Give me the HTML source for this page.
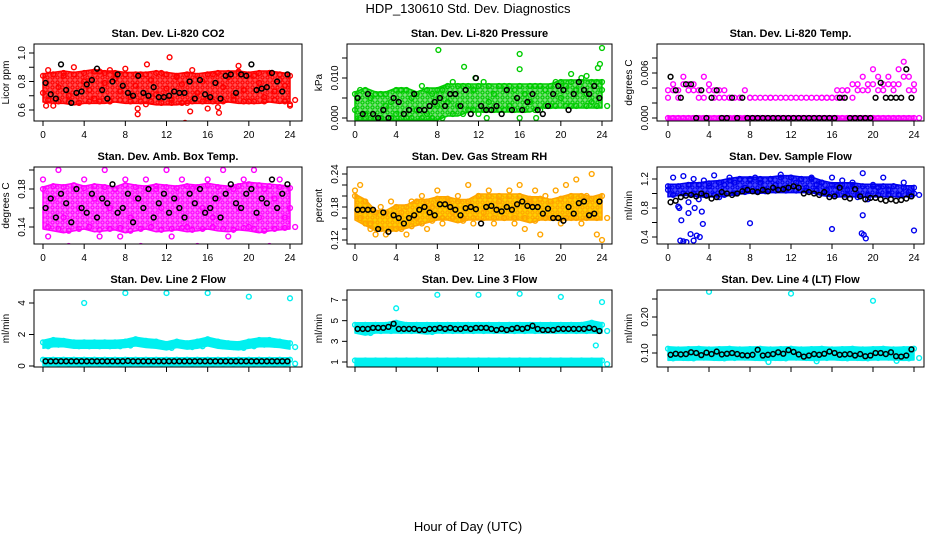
<!DOCTYPE html>
<html><head><meta charset="utf-8">
<style>
html,body{margin:0;padding:0;background:#fff;}
svg{display:block;font-family:"Liberation Sans","DejaVu Sans",sans-serif;}
</style></head>
<body>
<svg id="chart" width="936" height="540" viewBox="0 0 936 540" xmlns="http://www.w3.org/2000/svg">
<defs id="defs"></defs>
<text x="468" y="13" text-anchor="middle" font-size="13">HDP_130610  Std. Dev. Diagnostics</text>
<text x="468" y="531" text-anchor="middle" font-size="13">Hour of Day (UTC)</text>
<g id="panels"></g>
</svg>
<script>
// ---- data ----
const hourTicks = [0,4,8,12,16,20,24];

const co2Lo = [0.67,0.66,0.66,0.65,0.66,0.66,0.66,0.67,0.66,0.66,0.66,0.65,0.65,0.65,0.66,0.66,0.66,0.66,0.67,0.66,0.66,0.66,0.67,0.66,0.67];
const co2Hi = [0.84,0.85,0.86,0.85,0.86,0.87,0.86,0.86,0.85,0.85,0.85,0.86,0.85,0.84,0.85,0.84,0.85,0.86,0.86,0.86,0.85,0.86,0.86,0.85,0.84];
const co2Pts = [0.72,0.88,0.63,0.76,0.84,0.70,0.90,0.65,0.80,0.74,0.68,0.87,0.79,0.66,0.82,0.73,0.89,0.69,0.77,0.85,0.64,0.81,0.71,0.86,0.75,0.67,0.83,0.78,0.65,0.88,0.72,0.80,0.68,0.85,0.62,0.76,0.83,0.70,0.87,0.74,0.66,0.84,0.79,0.69,0.86,0.73,0.81,0.77,0.64];
const co2OutX = [5.4,0.3,12.3,13.8,14.3,9.2,17.1,24,6.5,16,19,10.1,9.2];
const co2OutY = [1.15,0.63,0.97,0.51,0.59,0.61,0.58,0.63,0.88,0.61,0.91,0.92,0.57];
const co2Blk = [0.79,0.71,0.68,0.92,0.74,0.65,0.72,0.73,0.78,0.81,0.89,0.74,0.68,0.80,0.85,0.77,0.72,0.70,0.84,0.72,0.70,0.76,0.69,0.69,0.70,0.73,0.72,0.72,0.80,0.68,0.81,0.71,0.69,0.79,0.68,0.84,0.85,0.72,0.85,0.84,0.92,0.74,0.75,0.76,0.86,0.80,0.73,0.85];

const prsLo = [0,0,0,0,0,0,0,0,0,0.001,0.001,0.002,0.002,0.002,0.002,0.002,0.002,0.002,0.003,0.003,0.003,0.003,0.003,0.003,0.003];
const prsHi = [0.006,0.007,0.006,0.006,0.007,0.007,0.006,0.007,0.007,0.008,0.008,0.008,0.008,0.008,0.008,0.008,0.008,0.008,0.008,0.008,0.009,0.009,0.009,0.009,0.009];
const prsPts = [0.002,0.007,0.001,0.005,0.000,0.006,0.003,0.004,0.001,0.007,0.000,0.005,0.002,0.008,0.001,0.006,0.003,0.007,0.004,0.009,0.003,0.008,0.002,0.007,0.001,0.009,0.004,0.006,0.002,0.008,0.003,0.007,0.000,0.006,0.004,0.008,0.002,0.007,0.003,0.009,0.005,0.008,0.003,0.007,0.010,0.006,0.004,0.009,0.007];
const prsOutX = [8.1,16,16,10.6,21,23.8,23.6,24,11.7,22.5,17.6,12.8];
const prsOutY = [0.017,0.016,0.0122,0.0128,0.011,0.0135,0.0125,0.0175,0.010,0.0105,0.000,0.000];
const prsBlk = [0.005,0.001,0.006,0.001,0.000,0.002,0.000,0.005,0.004,0.001,0.002,0.006,0.002,0.002,0.003,0.004,0.005,0.003,0.006,0.006,0.003,0.007,0.001,0.010,0.003,0.002,0.002,0.003,0.001,0.007,0.002,0.005,0.002,0.004,0.006,0.002,0.001,0.003,0.006,0.008,0.007,0.002,0.006,0.009,0.007,0.006,0.008,0.005];

const tmpMag1 = [0.0037,0.0045,0.0037,0.0055,0.0045,0.0045,0.0037,0.0055,0.0045,0.0037,0.0027,0.0037,0.0027,0.0027,0.0027,0.0037,0.0027,0.0027,0.0027,0.0027,0.0027,0.0027,0.0027,0.0027,0.0027,0.0027,0.0027,0.0027,0.0027,0.0027,0.0027,0.0027,0.0027,0.0027,0.0037,0.0037,0.0045,0.0037,0.0055,0.0045,0.0065,0.0055,0.0045,0.0055,0.0045,0.0065,0.0075,0.0055,0.0045];
const tmpMag2 = [0.0027,0.0037,0.0027,0.0045,0.0037,0.0037,0.0027,0.0027,0.0037,0.0027,0.0037,0.0027,0.0027,0,0.0027,0,0.0027,0,0,0,0.0027,0,0,0,0,0,0,0,0,0,0.0027,0.0027,0.0027,0.0037,0.0027,0.0037,0.0027,0.0045,0.0037,0.0037,0.0045,0.0037,0.0037,0.0045,0.0037,0.0045,0.0055,0.0037,0.0037];
const tmpLo = [0,0,0,0,0,0,0,0,0,0,0,0,0,0,0,0,0,0,0,0,0,0,0,0,0];
const tmpHi = [0,0,0,0,0,0,0,0,0,0,0,0,0,0,0,0,0,0,0,0,0,0,0,0,0];
const tmpBlk = [0.0055,0.0037,0.0027,0.0045,0.0045,0,0.0037,0,0.0027,0.0037,0,0,0.0027,0,0.0027,0,0,0,0,0,0,0,0,0,0,0,0,0,0,0,0,0,0,0.0027,0.0027,0,0,0,0,0,0.0027,0.0047,0.0027,0.0027,0.0027,0.0027,0.0065,0.0027];

const ambLo = [0.140,0.138,0.136,0.138,0.140,0.137,0.138,0.139,0.136,0.138,0.140,0.137,0.138,0.139,0.137,0.138,0.140,0.138,0.137,0.139,0.138,0.136,0.138,0.139,0.140];
const ambHi = [0.180,0.183,0.182,0.184,0.181,0.183,0.182,0.180,0.184,0.182,0.181,0.183,0.182,0.181,0.183,0.182,0.184,0.182,0.181,0.183,0.185,0.184,0.183,0.182,0.181];
const ambPts = [0.19,0.13,0.17,0.20,0.15,0.12,0.18,0.16,0.19,0.14,0.17,0.13,0.20,0.16,0.18,0.13,0.19,0.15,0.17,0.12,0.19,0.14,0.18,0.16,0.20,0.13,0.17,0.19,0.14,0.18,0.12,0.16,0.19,0.15,0.17,0.20,0.13,0.18,0.16,0.19,0.14,0.20,0.15,0.18,0.12,0.17,0.19,0.15,0.16];
const ambBlk = [0.160,0.170,0.150,0.175,0.165,0.145,0.180,0.160,0.155,0.175,0.150,0.170,0.165,0.185,0.155,0.160,0.175,0.145,0.170,0.160,0.180,0.150,0.165,0.175,0.155,0.170,0.160,0.150,0.175,0.165,0.180,0.155,0.160,0.170,0.150,0.175,0.185,0.165,0.160,0.175,0.180,0.155,0.170,0.165,0.190,0.160,0.175,0.185];

const rhLo = [0.16,0.15,0.14,0.14,0.14,0.145,0.15,0.155,0.16,0.16,0.155,0.16,0.16,0.16,0.16,0.16,0.16,0.155,0.16,0.16,0.16,0.16,0.16,0.16,0.16];
const rhHi = [0.20,0.19,0.17,0.17,0.18,0.18,0.19,0.19,0.195,0.195,0.19,0.19,0.20,0.20,0.20,0.20,0.20,0.195,0.195,0.19,0.195,0.20,0.20,0.195,0.20];
const rhPts = [0.21,0.22,0.15,0.14,0.13,0.18,0.13,0.19,0.14,0.17,0.13,0.19,0.16,0.20,0.14,0.18,0.21,0.15,0.19,0.17,0.20,0.16,0.22,0.15,0.20,0.17,0.21,0.15,0.19,0.16,0.21,0.15,0.22,0.14,0.19,0.21,0.13,0.20,0.16,0.21,0.15,0.22,0.16,0.23,0.15,0.20,0.24,0.13,0.12];
const rhBlk = [0.175,0.175,0.175,0.175,0.140,0.170,0.135,0.165,0.160,0.150,0.160,0.165,0.175,0.180,0.170,0.165,0.185,0.185,0.180,0.175,0.165,0.178,0.180,0.176,0.150,0.180,0.182,0.175,0.172,0.180,0.175,0.185,0.190,0.182,0.180,0.180,0.168,0.177,0.160,0.160,0.155,0.180,0.168,0.187,0.190,0.165,0.168,0.190];

const flwLo = [0.98,1.00,1.00,0.98,0.98,0.98,1.00,1.02,1.03,1.03,1.04,1.04,1.04,1.04,1.04,1.00,0.98,0.98,0.98,0.98,0.98,0.98,0.98,0.98,0.98];
const flwHi = [1.10,1.10,1.12,1.12,1.14,1.15,1.18,1.20,1.20,1.20,1.20,1.22,1.22,1.20,1.20,1.15,1.12,1.12,1.12,1.10,1.10,1.10,1.10,1.08,1.08];
const flwPts = [1.05,1.22,0.82,1.24,0.88,1.20,0.92,1.18,1.10,1.25,0.95,1.12,1.22,1.15,1.20,1.08,1.18,1.22,1.15,1.05,1.20,1.12,1.26,1.08,1.22,1.15,1.20,1.08,1.22,1.12,1.15,1.05,1.22,1.10,1.18,1.05,1.15,0.95,1.28,0.92,1.12,1.08,1.22,1.05,1.10,0.98,1.15,1.02,1.00];
const flwOutX = [1.2,1.5,1.8,2.2,2.5,2.8,3.1,3.4,1.3,2.0,2.6,3.3,8.0,16.0,18.9,19.1,19.0,19.3,24.0,1.1];
const flwOutY = [0.35,0.34,0.33,0.44,0.35,0.42,0.40,0.58,0.63,0.73,0.80,0.75,0.59,0.51,0.45,0.43,0.70,0.38,0.49,0.80];
const flwBlk = [0.88,0.90,0.95,0.97,0.98,0.96,1.00,0.97,0.93,0.95,1.02,1.00,0.98,1.00,1.03,1.05,1.03,1.02,1.05,1.03,1.08,1.05,1.06,1.08,1.10,1.08,1.00,1.02,1.00,0.98,1.02,0.95,0.96,1.08,0.95,0.93,1.06,0.96,0.92,0.94,0.94,0.92,0.90,0.92,0.90,0.91,0.93,0.96];

const l2Lo = [1.25,1.35,1.35,1.25,1.25,1.25,1.25,1.25,1.30,1.40,1.30,1.25,1.15,1.30,1.20,1.25,1.40,1.25,1.20,1.15,1.25,1.35,1.35,1.30,1.20];
const l2Hi = [1.50,1.65,1.60,1.50,1.50,1.50,1.50,1.50,1.55,1.70,1.60,1.55,1.40,1.55,1.45,1.55,1.70,1.55,1.45,1.40,1.55,1.65,1.65,1.55,1.45];
const l2RowLo = [0.15,0.15,0.15,0.15,0.15,0.15,0.15,0.15,0.15,0.15,0.15,0.15,0.15,0.15,0.15,0.15,0.15,0.15,0.15,0.15,0.15,0.15,0.15,0.15,0.15];
const l2RowHi = [0.40,0.40,0.40,0.40,0.40,0.40,0.40,0.40,0.40,0.40,0.40,0.40,0.40,0.40,0.40,0.40,0.40,0.40,0.40,0.40,0.40,0.40,0.40,0.40,0.40];
const l2OutX = [4,8,12,16,20,24];
const l2OutY = [4.0,4.63,4.63,4.63,4.4,4.3];
const l2Blk = [0.30,0.30,0.30,0.30,0.30,0.30,0.30,0.30,0.30,0.30,0.30,0.30,0.30,0.30,0.30,0.30,0.32,0.30,0.30,0.30,0.30,0.30,0.30,0.30,0.30,0.30,0.30,0.30,0.30,0.30,0.30,0.30,0.30,0.30,0.30,0.30,0.30,0.30,0.30,0.30,0.30,0.30,0.30,0.30,0.30,0.30,0.30,0.30];

const l3Lo = [4.00,3.80,4.00,4.00,4.00,4.00,4.00,3.90,4.00,4.00,4.00,4.00,4.00,4.00,4.00,4.00,4.00,4.00,4.00,4.00,4.00,4.00,4.00,4.00,4.00];
const l3Hi = [4.60,4.60,4.60,4.60,4.80,4.60,4.60,4.60,4.60,4.60,4.60,4.60,4.60,4.60,4.60,4.60,4.60,4.60,4.60,4.60,4.60,4.60,4.60,4.80,4.60];
const l3RowLo = [0.80,0.80,0.80,0.80,0.80,0.80,0.80,0.80,0.80,0.80,0.80,0.80,0.80,0.80,0.80,0.80,0.80,0.80,0.80,0.80,0.80,0.80,0.80,0.80,0.80];
const l3RowHi = [1.15,1.15,1.15,1.15,1.15,1.15,1.15,1.15,1.15,1.15,1.15,1.15,1.15,1.15,1.15,1.15,1.15,1.15,1.15,1.15,1.15,1.15,1.15,1.15,1.15];
const l3OutX = [4,8,12,16,20,24,23.4];
const l3OutY = [6.2,7.5,7.5,7.6,7.3,6.8,2.6];
const l3Blk = [4.2,4.2,4.2,4.3,4.3,4.3,4.4,4.7,4.2,4.2,4.2,4.2,4.1,4.1,4.2,4.2,4.3,4.2,4.3,4.2,4.2,4.3,4.2,4.3,4.3,4.3,4.2,4.1,4.2,4.1,4.2,4.3,4.2,4.3,4.5,4.2,4.1,4.1,4.1,4.2,4.2,4.2,4.2,4.2,4.2,4.3,4.2,4.0];

const l4Lo = [0.085,0.086,0.085,0.087,0.086,0.085,0.086,0.087,0.086,0.085,0.086,0.085,0.087,0.086,0.085,0.086,0.087,0.085,0.086,0.085,0.086,0.087,0.086,0.085,0.086];
const l4Hi = [0.112,0.110,0.111,0.112,0.110,0.111,0.112,0.110,0.111,0.112,0.110,0.111,0.112,0.110,0.111,0.112,0.110,0.111,0.112,0.110,0.111,0.112,0.110,0.111,0.112];
const l4OutX = [4,12,20,9.8,14.5,22.3];
const l4OutY = [0.27,0.265,0.245,0.075,0.077,0.078];
const l4Blk = [0.095,0.098,0.096,0.097,0.102,0.100,0.094,0.101,0.097,0.104,0.096,0.098,0.100,0.097,0.094,0.093,0.095,0.109,0.093,0.095,0.097,0.102,0.098,0.108,0.103,0.096,0.090,0.093,0.097,0.095,0.098,0.104,0.100,0.095,0.096,0.097,0.093,0.097,0.091,0.093,0.100,0.100,0.097,0.102,0.091,0.090,0.093,0.110];

const panelTitles = ["Stan. Dev. Li-820 CO2","Stan. Dev. Li-820 Pressure","Stan. Dev. Li-820 Temp.","Stan. Dev. Amb. Box Temp.","Stan. Dev. Gas Stream RH","Stan. Dev. Sample Flow","Stan. Dev. Line 2 Flow","Stan. Dev. Line 3 Flow","Stan. Dev. Line 4 (LT) Flow"];
const yLabels = ["Licor ppm","kPa","degrees C","degrees C","percent","ml/min","ml/min","ml/min","ml/min"];

// ---- layout ----
const cols = [{bx0:34,bx1:302,h0:43,h24:290},{bx0:347,bx1:612,h0:355,h24:602},{bx0:657,bx1:924,h0:668,h24:914}];
const rows = [{by0:44,by1:121,ty:37},{by0:167,by1:244,ty:160},{by0:290,by1:367,ty:283}];

const panels = [
 {c:0,r:0,color:"#ff0000",bg:"#ff5050",yRef:[0.6,110,1.0,53],ticks:[0.6,0.7,0.8,0.9,1.0],labels:["0.6","","0.8","","1.0"],
  bands:[[co2Lo,co2Hi]],pts:[co2Pts],outX:co2OutX,outY:co2OutY,blk:co2Blk},
 {c:1,r:0,color:"#00cc00",bg:"#7be07b",yRef:[0,118,0.010,78],ticks:[0,0.005,0.010,0.015],labels:["0.000","","0.010",""],
  bands:[[prsLo,prsHi]],pts:[prsPts],outX:prsOutX,outY:prsOutY,blk:prsBlk},
 {c:2,r:0,color:"#ff00ff",bg:"#ff80ff",yRef:[0,118,0.006,73],ticks:[0,0.002,0.004,0.006,0.008],labels:["0.000","","","0.006",""],
  bands:[[tmpLo,tmpHi]],pts:[tmpMag1,tmpMag2],outX:[],outY:[],blk:tmpBlk},
 {c:0,r:1,color:"#ff00ff",bg:"#ff70ff",yRef:[0.14,227,0.18,189],ticks:[0.14,0.16,0.18,0.20],labels:["0.14","","0.18",""],
  bands:[[ambLo,ambHi]],pts:[ambPts],outX:[],outY:[],blk:ambBlk},
 {c:1,r:1,color:"#ffa500",bg:"#ffd000",yRef:[0.12,240,0.24,174],ticks:[0.12,0.14,0.16,0.18,0.20,0.22,0.24],labels:["0.12","","","0.18","","","0.24"],
  bands:[[rhLo,rhHi]],pts:[rhPts],outX:[],outY:[],blk:rhBlk},
 {c:2,r:1,color:"#0000ee",bg:"#4a4aff",yRef:[1.2,179,0.4,237],ticks:[0.4,0.6,0.8,1.0,1.2],labels:["0.4","","0.8","","1.2"],
  bands:[[flwLo,flwHi]],pts:[flwPts],outX:flwOutX,outY:flwOutY,blk:flwBlk},
 {c:0,r:2,color:"#00f0f0",bg:"#00f0f0",yRef:[0,366,4,303],ticks:[0,2,4],labels:["0","2","4"],
  bands:[[l2Lo,l2Hi],[l2RowLo,l2RowHi]],pts:[],outX:l2OutX,outY:l2OutY,blk:l2Blk},
 {c:1,r:2,color:"#00f0f0",bg:"#00f0f0",yRef:[1,362,7,300],ticks:[1,3,5,7],labels:["1","3","5","7"],
  bands:[[l3Lo,l3Hi],[l3RowLo,l3RowHi]],pts:[],outX:l3OutX,outY:l3OutY,blk:l3Blk},
 {c:2,r:2,color:"#00f0f0",bg:"#00f0f0",yRef:[0.10,353,0.20,317],ticks:[0.10,0.15,0.20,0.25],labels:["0.10","","0.20",""],
  bands:[[l4Lo,l4Hi]],pts:[],outX:l4OutX,outY:l4OutY,blk:l4Blk}
];

const NS = "http://www.w3.org/2000/svg";
const root = document.getElementById("panels");
const defs = document.getElementById("defs");
function mk(tag, attrs, parent){const e=document.createElementNS(NS,tag);for(const k in attrs)e.setAttribute(k,attrs[k]);parent.appendChild(e);return e;}

panels.forEach((p,pi)=>{
  const C=cols[p.c], R=rows[p.r];
  const xs = h => C.h0 + (C.h24-C.h0)*h/24;
  const [v1,y1,v2,y2]=p.yRef;
  const ys = v => y1 + (v-v1)*(y2-y1)/(v2-v1);
  // texture pattern
  const pat = mk("pattern",{id:"pat"+pi,width:5,height:5,patternUnits:"userSpaceOnUse"},defs);
  mk("rect",{x:0,y:0,width:5,height:5,fill:p.bg},pat);
  mk("circle",{cx:2.5,cy:2.5,r:1.6,fill:"none",stroke:p.color,"stroke-width":1.2},pat);

  const g = mk("g",{},root);
  
  
  const cp = mk("clipPath",{id:"cp"+pi},g);
  mk("rect",{x:C.bx0,y:R.by0,width:C.bx1-C.bx0,height:R.by1-R.by0},cp);
  const plot = mk("g",{"clip-path":"url(#cp"+pi+")"},g);

  p.bands.forEach(([lo,hi])=>{
    let d="";
    hi.forEach((v,i)=>{d+=(i?"L":"M")+xs(i).toFixed(1)+","+(ys(v)-2).toFixed(1);});
    for(let i=lo.length-1;i>=0;i--){d+="L"+xs(i).toFixed(1)+","+(ys(lo[i])+2).toFixed(1);}
    const b=mk("path",{d:d+"Z",fill:"url(#pat"+pi+")",stroke:p.color,"stroke-width":1.5,"stroke-linejoin":"round"},plot);
    
    
    hi.forEach((v,i)=>{
      const c1=mk("circle",{cx:xs(i),cy:ys(v),r:2.4,fill:"none",stroke:p.color,"stroke-width":1.4},plot);
      
      
      const c2=mk("circle",{cx:xs(i+0.5),cy:ys(lo[i]),r:2.4,fill:"none",stroke:p.color,"stroke-width":1.4},plot);
      
      
    });
  });
  p.pts.forEach(arr=>{
    arr.forEach((v,i)=>{
      const c=mk("circle",{cx:xs(i*0.5),cy:ys(v),r:2.4,fill:"none",stroke:p.color,"stroke-width":1.4},plot);
      
      
    });
  });
  p.outX.forEach((x,i)=>{
    const c=mk("circle",{cx:xs(x),cy:ys(p.outY[i]),r:2.4,fill:"none",stroke:p.color,"stroke-width":1.4},plot);
    
    
  });
  p.blk.forEach((v,i)=>{
    const c=mk("circle",{cx:xs(i*0.5+0.25),cy:ys(v),r:2.4,fill:"none",stroke:"#000","stroke-width":1.5},plot);
    
    
  });

  const box=mk("rect",{x:C.bx0,y:R.by0,width:C.bx1-C.bx0,height:R.by1-R.by0,fill:"none",stroke:"#000","stroke-width":1},g);
  
  
  const xa=mk("g",{},g);
  
  
  mk("line",{x1:xs(0),x2:xs(24),y1:R.by1,y2:R.by1,stroke:"#000"},xa);
  hourTicks.forEach(h=>{
    mk("line",{x1:xs(h),x2:xs(h),y1:R.by1,y2:R.by1+5,stroke:"#000"},xa);
    if(p.r<2){
      const t=mk("text",{x:xs(h),y:R.by1+17,"text-anchor":"middle","font-size":10},xa);
      t.textContent=h;
      
      
    }
  });
  const ya=mk("g",{},g);
  
  
  const yTop = Math.max(R.by0, ys(p.ticks[p.ticks.length-1]));
  mk("line",{x1:C.bx0,x2:C.bx0,y1:ys(p.ticks[0]),y2:yTop,stroke:"#000"},ya);
  p.ticks.forEach((v,i)=>{
    if(ys(v)<R.by0-1) return;
    mk("line",{x1:C.bx0-5,x2:C.bx0,y1:ys(v),y2:ys(v),stroke:"#000"},ya);
    if(p.labels[i]){
      const tx=C.bx0-9, ty=ys(v);
      const t=mk("text",{x:tx,y:ty,"text-anchor":"middle","font-size":10,transform:"rotate(-90 "+tx+" "+ty+")"},ya);
      t.textContent=p.labels[i];
      
      
    }
  });
  const lx=C.bx0-25, ly=(R.by0+R.by1)/2;
  const yl=mk("text",{x:lx,y:ly,"text-anchor":"middle","font-size":10,transform:"rotate(-90 "+lx+" "+ly+")"},g);
  yl.textContent=yLabels[pi];
  
  
  const tt=mk("text",{x:(C.bx0+C.bx1)/2,y:R.ty,"text-anchor":"middle","font-size":11,"font-weight":"bold"},g);
  tt.textContent=panelTitles[pi];
  
  
});
</script>
</body></html>
